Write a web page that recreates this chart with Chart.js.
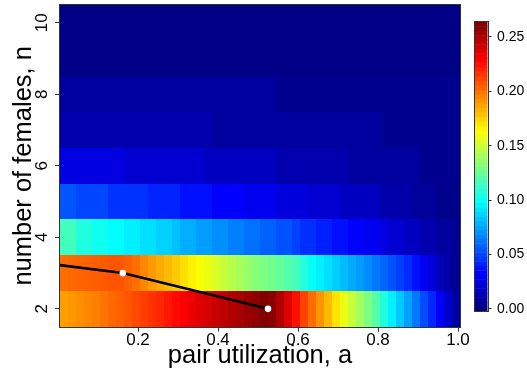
<!DOCTYPE html>
<html>
<head>
<meta charset="utf-8">
<script src="https://cdn.jsdelivr.net/npm/chart.js@4.4.0/dist/chart.umd.min.js"></script>
<style>
  html, body { margin: 0; padding: 0; background: #fff; }
  #wrap { position: relative; width: 527px; height: 375px; }
  #heat { position: absolute; left: 0; top: 0; }
  #bar { position: absolute; left: 470px; top: 0; }
</style>
</head>
<body>
<div id="wrap">
  <canvas id="heat" width="527" height="375"></canvas>
  <canvas id="bar" width="57" height="375"></canvas>
</div>
<script>
// pair utilization (cell centres)
var aCols = [0.015,0.035,0.055,0.075,0.095,0.115,0.135,0.155,0.175,0.195,
             0.215,0.235,0.255,0.275,0.295,0.315,0.335,0.355,0.375,0.395,
             0.415,0.435,0.455,0.475,0.495,0.515,0.535,0.555,0.575,0.595,
             0.615,0.635,0.655,0.675,0.695,0.715,0.735,0.755,0.775,0.795,
             0.815,0.835,0.855,0.875,0.895,0.915,0.935,0.955,0.975,0.995];
// number of females
var nRows = [2, 3, 4, 5, 6, 7, 8, 9, 10];

var row2 = [0.190,0.192,0.194,0.196,0.198,0.201,0.204,0.206,0.209,0.212,
            0.215,0.218,0.221,0.225,0.229,0.232,0.236,0.239,0.242,0.245,
            0.248,0.251,0.254,0.257,0.260,0.263,0.261,0.251,0.240,0.227,
            0.214,0.203,0.193,0.183,0.172,0.160,0.150,0.141,0.131,0.121,
            0.107,0.095,0.085,0.075,0.064,0.053,0.043,0.032,0.020,0.008];
var row3 = [0.203,0.204,0.205,0.206,0.207,0.208,0.209,0.209,0.206,0.202,
            0.196,0.191,0.187,0.183,0.179,0.173,0.168,0.164,0.160,0.155,
            0.150,0.146,0.142,0.138,0.134,0.131,0.128,0.125,0.121,0.116,
            0.108,0.100,0.095,0.091,0.086,0.082,0.077,0.073,0.069,0.064,
            0.059,0.054,0.049,0.044,0.037,0.030,0.023,0.016,0.010,0.005];
var row4 = [0.116,0.116,0.107,0.107,0.103,0.103,0.099,0.099,0.095,0.095,
            0.091,0.091,0.087,0.087,0.083,0.078,0.078,0.074,0.074,0.070,
            0.070,0.066,0.066,0.062,0.062,0.058,0.058,0.054,0.054,0.050,
            0.045,0.045,0.041,0.041,0.037,0.037,0.033,0.033,0.029,0.029,
            0.025,0.021,0.021,0.017,0.017,0.012,0.012,0.008,0.008,0.005];
var row5 = [0.055,0.055,0.051,0.051,0.051,0.051,0.046,0.046,0.046,0.046,
            0.046,0.042,0.042,0.042,0.042,0.037,0.037,0.037,0.037,0.033,
            0.033,0.033,0.033,0.029,0.029,0.029,0.029,0.024,0.024,0.024,
            0.024,0.021,0.021,0.021,0.021,0.017,0.017,0.017,0.017,0.017,
            0.011,0.011,0.011,0.011,0.007,0.007,0.007,0.003,0.003,0.003];
var row6 = [0.025,0.025,0.025,0.025,0.025,0.025,0.025,0.025,0.021,0.021,
            0.021,0.021,0.021,0.021,0.021,0.021,0.021,0.021,0.017,0.017,
            0.017,0.017,0.017,0.017,0.017,0.017,0.017,0.012,0.012,0.012,
            0.012,0.012,0.012,0.012,0.012,0.012,0.008,0.008,0.008,0.008,
            0.008,0.008,0.008,0.008,0.008,0.004,0.004,0.004,0.004,0.004];
var row7 = [0.012,0.012,0.012,0.012,0.012,0.012,0.012,0.012,0.012,0.012,
            0.012,0.012,0.012,0.012,0.012,0.012,0.012,0.012,0.012,0.008,
            0.008,0.008,0.008,0.008,0.008,0.008,0.008,0.008,0.008,0.008,
            0.008,0.008,0.008,0.008,0.008,0.008,0.008,0.008,0.008,0.008,
            0.004,0.004,0.004,0.004,0.004,0.004,0.004,0.004,0.004,0.004];
var row8 = [0.008,0.008,0.008,0.008,0.008,0.008,0.008,0.008,0.008,0.008,
            0.008,0.008,0.008,0.008,0.008,0.008,0.008,0.008,0.008,0.008,
            0.008,0.008,0.008,0.008,0.008,0.008,0.008,0.004,0.004,0.004,
            0.004,0.004,0.004,0.004,0.004,0.004,0.004,0.004,0.004,0.004,
            0.004,0.004,0.004,0.004,0.004,0.004,0.004,0.004,0.004,0.004];
var row9 = [0.002,0.002,0.002,0.002,0.002,0.002,0.002,0.002,0.002,0.002,
            0.002,0.002,0.002,0.002,0.002,0.002,0.002,0.002,0.002,0.002,
            0.002,0.002,0.002,0.002,0.002,0.002,0.002,0.002,0.002,0.002,
            0.002,0.002,0.002,0.002,0.002,0.002,0.002,0.002,0.002,0.002,
            0.002,0.002,0.002,0.002,0.002,0.002,0.002,0.002,0.002,0.002];
var row10 = [0.002,0.002,0.002,0.002,0.002,0.002,0.002,0.002,0.002,0.002,
             0.002,0.002,0.002,0.002,0.002,0.002,0.002,0.002,0.002,0.002,
             0.002,0.002,0.002,0.002,0.002,0.002,0.002,0.002,0.002,0.002,
             0.002,0.002,0.002,0.002,0.002,0.002,0.002,0.002,0.002,0.002,
             0.002,0.002,0.002,0.002,0.002,0.002,0.002,0.002,0.002,0.002];

// black line with the two white points
var lineA = [0, 0.162, 0.525];
var lineN = [3.23, 3.0, 2.0];

var xTicks = [0.2, 0.4, 0.6, 0.8, 1.0];
var yTicks = [2, 4, 6, 8, 10];
var barTicks = [0, 0.05, 0.10, 0.15, 0.20, 0.25];
var zMin = 0, zMax = 0.264;

var zRows = [row2, row3, row4, row5, row6, row7, row8, row9, row10];

Chart.defaults.font.family = "'Liberation Sans', Arial, sans-serif";
Chart.defaults.color = "#000";

function clamp01(v) { return Math.max(0, Math.min(1, v)); }

// matlab-like jet colours
function jet(t) {
    t = clamp01(t);
    var r = clamp01(1.5 - Math.abs(4 * t - 3));
    var g = clamp01(1.5 - Math.abs(4 * t - 2));
    var b = clamp01(1.5 - Math.abs(4 * t - 1));
    return "rgb(" + Math.round(r * 255) + "," + Math.round(g * 255) + "," + Math.round(b * 255) + ")";
}

function drawBox(chart) {
    var a = chart.chartArea, ctx = chart.ctx;
    ctx.save();
    ctx.strokeStyle = "#333";
    ctx.lineWidth = 1;
    ctx.strokeRect(Math.round(a.left) - 0.5, Math.round(a.top) - 0.5,
                   Math.round(a.right - a.left) + 1, Math.round(a.bottom - a.top) + 1);
    ctx.restore();
}

// the rotated labels would otherwise push the plot area in
function noPad(s) {
    s.paddingTop = 0;
    s.paddingBottom = 0;
}

var heatmap = {
    id: "heatmap",
    beforeDatasetsDraw: function(chart) {
        var ctx = chart.ctx, xs = chart.scales.x, ys = chart.scales.y;
        ctx.save();
        zRows.forEach(function(row, i) {
            var n = nRows[i];
            var y0 = Math.round(ys.getPixelForValue(n + 0.5));
            var y1 = Math.round(ys.getPixelForValue(n - 0.5));
            row.forEach(function(v, k) {
                var x0 = Math.round(xs.getPixelForValue(aCols[k] - 0.01));
                var x1 = Math.round(xs.getPixelForValue(aCols[k] + 0.01));
                ctx.fillStyle = jet((v - zMin) / (zMax - zMin));
                ctx.fillRect(x0, y0, x1 - x0, y1 - y0);
            });
        });
        ctx.restore();
    },
    afterDraw: drawBox
};

var colorbar = {
    id: "colorbar",
    beforeDatasetsDraw: function(chart) {
        var ctx = chart.ctx, ys = chart.scales.y, a = chart.chartArea;
        var lo = ys.min, hi = ys.max, nCol = 64;
        ctx.save();
        for (var k = 0; k < nCol; k++) {
            var y0 = ys.getPixelForValue(lo + (k + 1) * (hi - lo) / nCol);
            var y1 = ys.getPixelForValue(lo + k * (hi - lo) / nCol);
            ctx.fillStyle = jet(k / (nCol - 1));
            ctx.fillRect(a.left, y0, a.right - a.left, y1 - y0 + 0.5);
        }
        ctx.restore();
    },
    afterDraw: drawBox
};

var lineData = lineA.map(function(a, i) { return { x: a, y: lineN[i] }; });

new Chart(document.getElementById("heat"), {
    type: "scatter",
    data: {
        datasets: [{
            data: lineData,
            showLine: true,
            borderColor: "#000",
            borderWidth: 2.5,
            pointRadius: [0, 3.3, 3.3],
            pointBackgroundColor: "#fff",
            pointBorderColor: "#fff",
            pointBorderWidth: 0,
            clip: 0
        }]
    },
    options: {
        responsive: false,
        animation: false,
        layout: { padding: { top: 5, right: 67, left: 0, bottom: 0 } },
        plugins: { legend: { display: false }, tooltip: { enabled: false } },
        scales: {
            x: {
                type: "linear",
                min: 0.005,
                max: 1.005,
                afterBuildTicks: function(s) { s.ticks = xTicks.map(function(v) { return { value: v }; }); },
                afterFit: function(s) { s.height = 48.3; },
                grid: { drawOnChartArea: false, tickLength: 5, color: "#333", tickColor: "#333" },
                border: { display: false },
                ticks: {
                    autoSkip: false, maxRotation: 0, padding: 0, color: "#000",
                    font: { size: 17, lineHeight: 1 },
                    callback: function(v) { return v.toFixed(1); }
                },
                title: {
                    display: true, text: "pair utilization, a", color: "#000",
                    font: { size: 25.5, lineHeight: 1 },
                    padding: { top: 0, bottom: 6 }
                }
            },
            y: {
                type: "linear",
                min: 1.5,
                max: 10.5,
                afterBuildTicks: function(s) { s.ticks = yTicks.map(function(v) { return { value: v }; }); },
                afterFit: function(s) { s.width = 60; noPad(s); },
                grid: { drawOnChartArea: false, tickLength: 5, color: "#333", tickColor: "#333" },
                border: { display: false },
                ticks: {
                    autoSkip: false, minRotation: 90, maxRotation: 90, crossAlign: "center",
                    padding: 3.3, color: "#000",
                    font: { size: 17, lineHeight: 1 },
                    callback: function(v) { return String(v); }
                },
                title: {
                    display: true, text: "number of females, n", color: "#000",
                    font: { size: 25.5, lineHeight: 1 },
                    padding: { top: 11.5, bottom: 0 }
                }
            }
        }
    },
    plugins: [heatmap]
});

new Chart(document.getElementById("bar"), {
    type: "scatter",
    data: { datasets: [] },
    options: {
        responsive: false,
        animation: false,
        layout: { padding: { top: 21.7, bottom: 64, left: 5, right: 0 } },
        plugins: { legend: { display: false }, tooltip: { enabled: false } },
        scales: {
            x: { display: false, min: 0, max: 1 },
            y: {
                position: "right",
                min: -0.002,
                max: zMax,
                afterBuildTicks: function(s) { s.ticks = barTicks.map(function(v) { return { value: v }; }); },
                afterFit: function(s) { s.width = 39.5; noPad(s); },
                grid: { drawOnChartArea: false, tickLength: 4, color: "#333", tickColor: "#333" },
                border: { display: false },
                ticks: {
                    autoSkip: false, padding: 5.5, color: "#000",
                    font: { size: 14 },
                    callback: function(v) { return v.toFixed(2); }
                }
            }
        }
    },
    plugins: [colorbar]
});
</script>
</body>
</html>
